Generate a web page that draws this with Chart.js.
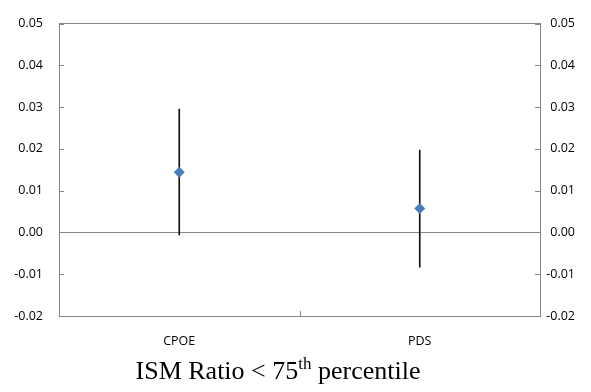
<!DOCTYPE html>
<html>
<head>
<meta charset="utf-8">
<script src="https://cdn.jsdelivr.net/npm/chart.js@4/dist/chart.umd.min.js"></script>
<style>
  html, body { margin: 0; padding: 0; background: #ffffff; }
  #wrap { width: 591px; height: 392px; position: relative; }
</style>
</head>
<body>
<div id="wrap"><canvas id="c" width="591" height="392"></canvas></div>
<script>
// ---- data ----
const categories = ['CPOE', 'PDS'];
const estimates  = [0.0144, 0.0057];
const lowerBound = [-0.0006, -0.0083];
const upperBound = [0.0295, 0.0197];
const yTickMin = -0.02;
const yTickMax = 0.05;
const yTickStep = 0.01;
const titleMain = 'ISM Ratio < 75';
const titleSup = 'th';
const titleRest = ' percentile';

const axisGray = '#868686';
const tickFont = { family: 'Open Sans', size: 12.5 };

const errorRanges = categories.map((_, i) => [lowerBound[i], upperBound[i]]);

const insideTicks = {
  id: 'insideTicks',
  afterDraw(chart) {
    const ctx = chart.ctx;
    const a = chart.chartArea;
    const y = chart.scales.y;
    const x = chart.scales.x;
    ctx.save();
    ctx.strokeStyle = axisGray;
    ctx.lineWidth = 1;
    ctx.beginPath();
    y.ticks.forEach(t => {
      const py = Math.round(y.getPixelForValue(t.value)) + 0.5;
      ctx.moveTo(a.left, py); ctx.lineTo(a.left + 5, py);
      ctx.moveTo(a.right, py); ctx.lineTo(a.right - 5, py);
    });
    for (let i = 0; i < categories.length - 1; i++) {
      const px = Math.round(x.getPixelForValue(i + 0.5)) + 0.5;
      ctx.moveTo(px, a.bottom); ctx.lineTo(px, a.bottom - 5);
    }
    ctx.stroke();
    ctx.restore();
  }
};

const bottomTitle = {
  id: 'bottomTitle',
  afterDraw(chart) {
    const ctx = chart.ctx;
    ctx.save();
    ctx.fillStyle = '#000';
    ctx.textBaseline = 'alphabetic';
    ctx.textAlign = 'left';
    const mainFont = '26px "Liberation Serif", "Times New Roman", serif';
    const supFont = '17px "Liberation Serif", "Times New Roman", serif';
    ctx.font = mainFont;
    const w1 = ctx.measureText(titleMain).width;
    const w3 = ctx.measureText(titleRest).width;
    ctx.font = supFont;
    const w2 = ctx.measureText(titleSup).width;
    const total = w1 + w2 + w3;
    const cx = 278, base = 379;
    let x0 = cx - total / 2;
    ctx.font = mainFont;
    ctx.fillText(titleMain, x0, base);
    ctx.font = supFont;
    ctx.fillText(titleSup, x0 + w1, base - 10);
    ctx.font = mainFont;
    ctx.fillText(titleRest, x0 + w1 + w2, base);
    ctx.restore();
  }
};

const gridColor = (c) => {
  const v = c.tick ? c.tick.value : null;
  if (v === null) return 'rgba(0,0,0,0)';
  if (Math.abs(v) < 1e-9 || Math.abs(v - yTickMax) < 1e-9) return axisGray;
  return 'rgba(0,0,0,0)';
};

new Chart(document.getElementById('c'), {
  type: 'bar',
  data: {
    labels: categories,
    datasets: [
      {
        type: 'line',
        label: 'Estimate',
        data: estimates,
        showLine: false,
        pointStyle: 'rectRot',
        pointRadius: 5.5,
        pointBackgroundColor: '#4a7ebb',
        pointBorderColor: '#4a7ebb',
        pointBorderWidth: 0,
        yAxisID: 'y',
        order: 0
      },
      {
        type: 'bar',
        label: 'Range',
        data: errorRanges,
        backgroundColor: '#111111',
        borderWidth: 0,
        barThickness: 1,
        yAxisID: 'y',
        order: 1
      }
    ]
  },
  options: {
    responsive: false,
    animation: false,
    devicePixelRatio: 1,
    layout: { padding: { top: 14, right: 16, bottom: 0, left: 0 } },
    plugins: {
      legend: { display: false },
      tooltip: { enabled: false },
      title: { display: false }
    },
    scales: {
      x: {
        type: 'category',
        offset: true,
        grid: { display: false, drawTicks: false },
        border: { display: true, color: axisGray, width: 1 },
        ticks: { font: tickFont, color: '#000', padding: 18 },
        afterFit(s) { s.height = 76; }
      },
      y: {
        position: 'left',
        min: yTickMin, max: yTickMax,
        grid: { color: gridColor, drawTicks: false, lineWidth: 1 },
        border: { display: true, color: axisGray, width: 1 },
        ticks: { stepSize: yTickStep, font: tickFont, color: '#000', padding: 16,
                 callback: v => Number(v).toFixed(2) },
        afterFit(s) { s.width = 59; }
      },
      y2: {
        position: 'right',
        min: yTickMin, max: yTickMax,
        grid: { display: false, drawTicks: false },
        border: { display: true, color: axisGray, width: 1 },
        ticks: { stepSize: yTickStep, font: tickFont, color: '#000', padding: 4, crossAlign: 'far',
                 callback: v => Number(v).toFixed(2) },
        afterFit(s) { s.width = 35; }
      }
    }
  },
  plugins: [insideTicks, bottomTitle]
});
</script>
</body>
</html>
